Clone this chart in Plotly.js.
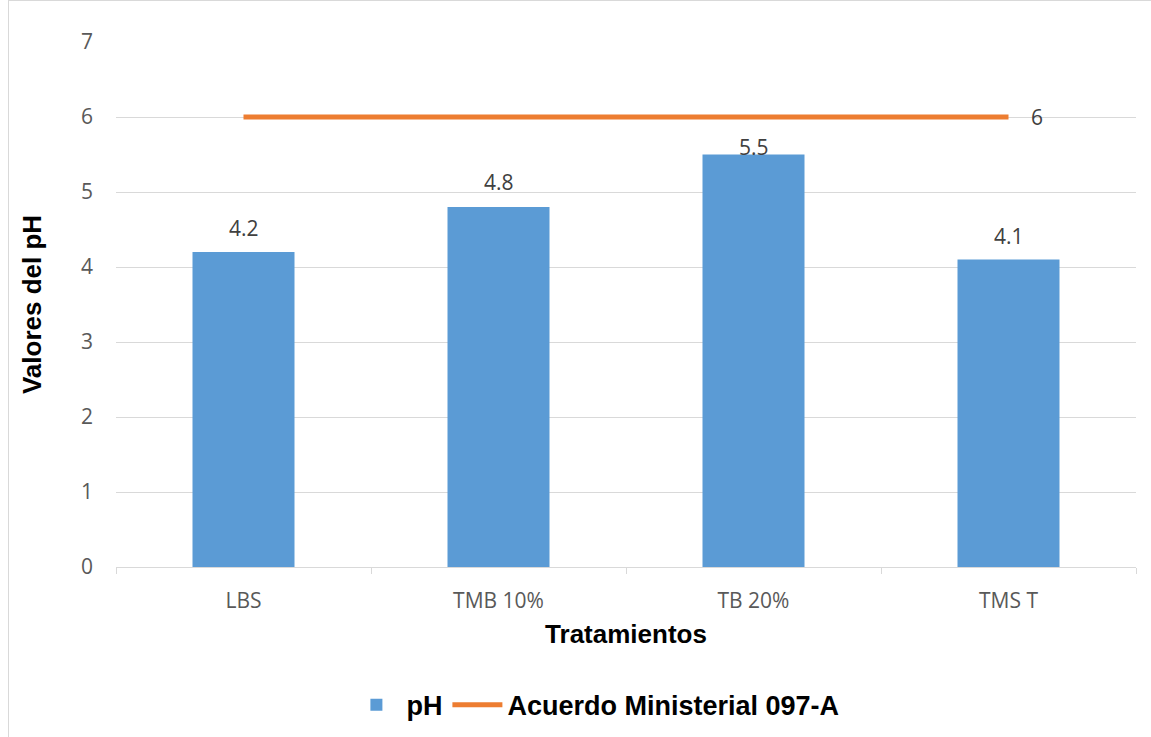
<!DOCTYPE html>
<html>
<head>
<meta charset="utf-8">
<script src="https://cdn.plot.ly/plotly-3.0.1.min.js"></script>
<style>
html,body{margin:0;padding:0;background:#fff;}
#frame{position:absolute;left:8px;top:0;width:1160px;height:760px;border:1px solid #d9d9d9;box-sizing:border-box;}
#chart{position:absolute;left:0;top:0;width:1151px;height:737px;}
</style>
</head>
<body>
<div id="frame"></div>
<div id="chart"></div>
<script>
const categories = ["LBS", "TMB 10%", "TB 20%", "TMS T"];
const phValues = [4.2, 4.8, 5.5, 4.1];
const limitValues = [6, 6, 6, 6];
const barLabels = ["4.2", "4.8", "5.5", "4.1"];
const labelShift = [24, 25, 8, 24];
const limitLabel = "6";

const tickFont = {family: "'Open Sans', Lato, sans-serif", size: 21, color: "#595959"};
const labelFont = {family: "'Open Sans', Lato, sans-serif", size: 21, color: "#404040"};
const boldFont = {family: "'Liberation Sans', Arial, sans-serif", size: 26, color: "#000", weight: "bold"};
const legendFont = {family: "'Liberation Sans', Arial, sans-serif", size: 27, color: "#000", weight: "bold"};

const barTrace = {
  type: "bar",
  name: "pH",
  x: categories,
  y: phValues,
  width: 0.4,
  marker: {color: "#5b9bd5"},
  hoverinfo: "x+y"
};
const lineTrace = {
  type: "scatter",
  mode: "lines",
  name: "Acuerdo Ministerial 097-A",
  x: categories,
  y: limitValues,
  line: {color: "#ed7d31", width: 5}
};

const annotations = categories.map((c, i) => ({
  x: c, y: phValues[i], text: barLabels[i], showarrow: false,
  yanchor: "bottom", yshift: labelShift[i] - 16,
  font: labelFont
}));
annotations.push({
  x: categories[categories.length - 1], y: limitValues[limitValues.length - 1],
  text: limitLabel, showarrow: false, xanchor: "left", xshift: 20,
  font: labelFont
});

const layout = {
  width: 1151, height: 737,
  margin: {l: 116, r: 15, t: 42, b: 170},
  paper_bgcolor: "rgba(0,0,0,0)",
  plot_bgcolor: "rgba(0,0,0,0)",
  showlegend: true,
  legend: {
    orientation: "h", x: 0.47, xanchor: "center",
    yref: "container", y: 0.043, yanchor: "middle",
    font: legendFont,
    itemwidth: 50, traceorder: "normal"
  },
  xaxis: {
    type: "category",
    automargin: false,
    tickfont: tickFont,
    showline: true, linecolor: "#d9d9d9", linewidth: 1,
    ticks: "outside", tickson: "boundaries", ticklen: 6, tickcolor: "#d9d9d9",
    ticklabelstandoff: 15,
    showgrid: false,
    title: {text: "Tratamientos", standoff: 11, font: boldFont}
  },
  yaxis: {
    range: [0, 7],
    dtick: 1,
    automargin: false,
    tickfont: tickFont,
    showgrid: true, gridcolor: "#d9d9d9", gridwidth: 1,
    zeroline: false,
    ticks: "", ticklabelstandoff: 22,
    title: {text: "Valores del pH", standoff: 31, font: boldFont}
  },
  annotations: annotations,
  bargap: 0.6
};

Plotly.newPlot("chart", [barTrace, lineTrace], layout, {displayModeBar: false, staticPlot: true});
</script>
</body>
</html>
